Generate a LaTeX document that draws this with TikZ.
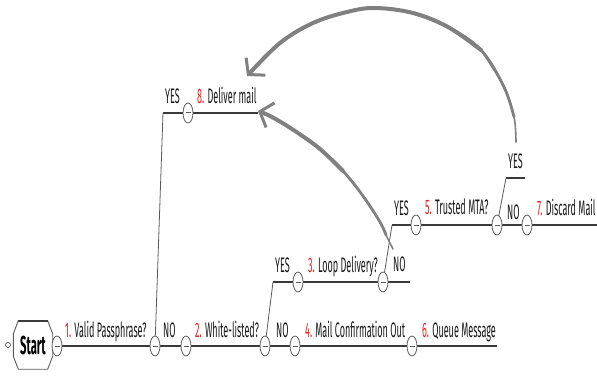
\documentclass[tikz,border=0pt]{standalone}
\usepackage{fontspec}
\newfontfamily\mapfont[FakeStretch=0.43]{Fira Sans}
\usetikzlibrary{arrows.meta,shapes.geometric,backgrounds}
\definecolor{numred}{HTML}{F02020}
\definecolor{lineclr}{HTML}{3A3A3A}
\definecolor{arrowclr}{HTML}{808080}
\definecolor{knobclr}{HTML}{5A5A5A}
\newcommand\rnum[1]{\textcolor{numred}{#1}}
\tikzset{
  lbl/.style={anchor=base west, inner sep=0pt, text=black!90,
    font=\mapfont\fontsize{21}{24}\selectfont},
  knob/.style={ellipse, draw=knobclr, fill=white, line width=0.8pt,
    minimum width=10pt, minimum height=20pt, inner sep=0pt,
    path picture={\draw[knobclr, line width=1pt]
      ([xshift=-2.5pt]path picture bounding box.center) --
      ([xshift=2.5pt]path picture bounding box.center);}},
  branch/.style={draw=lineclr, line width=1.8pt},
  link/.style={draw=knobclr, line width=0.8pt},
  jump/.style={draw=arrowclr, line cap=round, line join=round},
  jumptip/.style={-{Straight Barb[length=11pt,width=26pt,line width=3pt]}},
}
\begin{document}
\begin{tikzpicture}[x=1pt,y=-1pt]
\useasboundingbox (0,0) rectangle (597,377);

% start node
\node[inner sep=0pt, minimum width=39pt, minimum height=48pt,
      font=\mapfont\fontsize{26}{28}\selectfont\bfseries] (start) at (33,345) {Start};
\draw[draw=knobclr, line width=0.9pt]
  ([xshift=5pt]start.north west) -- ([xshift=-5pt]start.north east)
  -- ([yshift=-13pt]start.north east) -- ([yshift=13pt]start.south east)
  -- ([xshift=-5pt]start.south east) -- ([xshift=5pt]start.south west)
  -- ([yshift=13pt]start.south west) -- ([yshift=-13pt]start.north west) -- cycle;
\draw[draw=lineclr, line width=2pt]
  ([xshift=5pt]start.north west) -- ([xshift=-5pt]start.north east);
\node[circle, draw=knobclr, line width=0.7pt, inner sep=0pt, minimum size=5pt] (sdot) at (8,345) {};

% knobs
\node[knob] (k0) at (57,346) {};
\node[knob] (k1) at (155,346) {};
\node[knob] (k2) at (186,346) {};
\node[knob] (k3) at (265,346) {};
\node[knob] (k4) at (295,346) {};
\node[knob] (k5) at (412,346) {};
\node[knob] (ky8) at (188,113) {};
\node[knob] (ky3) at (298,282) {};
\node[knob] (k3e) at (383,282) {};
\node[knob] (ky5) at (416,225) {};
\node[knob] (k5e) at (497,225) {};
\node[knob] (k7) at (527,225) {};

\coordinate (b1) at (163,113);
\coordinate (b3) at (273,282);
\coordinate (b5) at (392,225);
\coordinate (b6) at (506,178);
\coordinate (e8) at (258,113);
\coordinate (e6) at (497,346);
\coordinate (e3) at (410,282);
\coordinate (e7) at (597,225);
\coordinate (e6y) at (525,178);

\begin{pgfonlayer}{background}
\draw[branch] (start.east |- k0) -- (k0) -- (k1) -- (k2) -- (k3) -- (k4) -- (k5) -- (e6);
\draw[link] (k1) -- (b1);
\draw[branch] (b1) -- (ky8) -- (e8);
\draw[link] (k3) -- (b3);
\draw[branch] (b3) -- (ky3) -- (k3e) -- (e3);
\draw[link] (k3e) -- (b5);
\draw[branch] (b5) -- (ky5) -- (k5e) -- (k7) -- (e7);
\draw[link] (k5e) -- (b6);
\draw[branch] (b6) -- (e6y);
\end{pgfonlayer}

% labels
\node[lbl] (t1) at (65,337) {\rnum{1.} Valid Passphrase?};
\node[lbl] (n1) at (163,337) {NO};
\node[lbl] (t2) at (195,337) {\rnum{2.} White-listed?};
\node[lbl] (n2) at (276,337) {NO};
\node[lbl] (t4) at (305,337) {\rnum{4.} Mail Confirmation Out};
\node[lbl] (t6) at (422,337) {\rnum{6.} Queue Message};
\node[lbl] (y1) at (165,104) {YES};
\node[lbl] (t8) at (197,104) {\rnum{8.} Deliver mail};
\node[lbl] (y2) at (275,272) {YES};
\node[lbl] (t3) at (308,272) {\rnum{3.} Loop Delivery?};
\node[lbl] (n3) at (393,271) {NO};
\node[lbl] (y3) at (394,215) {YES};
\node[lbl] (t5) at (425,214) {\rnum{5.} Trusted MTA?};
\node[lbl] (n5) at (507,219) {NO};
\node[lbl] (t7) at (537,215) {\rnum{7.} Discard Mail};
\node[lbl] (y5) at (508,168) {YES};

% jump arrows (tapered: thin tail, thick head)
\coordinate (tailA) at (516,142);
\coordinate (headA) at (247,76);
\coordinate (tailB) at (393,249);
\coordinate (headB) at (258,111);
\draw[jump, line width=1.6pt] plot[smooth, tension=0.6] coordinates
  {(tailA) (514,117) (504,87) (481,50)};
\draw[jump, line width=2.8pt] plot[smooth, tension=0.6] coordinates
  {(514,117) (504,87) (481,50) (448,27) (413,13)};
\draw[jump, line width=4pt, jumptip] plot[smooth, tension=0.6] coordinates
  {(481,50) (448,27) (413,13) (375,8) (347,12) (313,23) (280,43) (headA)};
\draw[jump, line width=1.6pt] plot[smooth, tension=0.6] coordinates
  {(tailB) (386,235) (380,222) (363,196)};
\draw[jump, line width=2.8pt] plot[smooth, tension=0.6] coordinates
  {(386,235) (380,222) (363,196) (343,171) (320,149)};
\draw[jump, line width=4pt, jumptip] plot[smooth, tension=0.6] coordinates
  {(343,171) (320,149) (295,131) (272,117) (headB)};
\end{tikzpicture}
\end{document}
